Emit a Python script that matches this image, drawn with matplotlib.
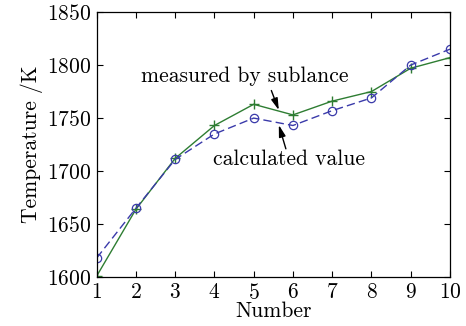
import matplotlib
matplotlib.use('Agg')

import numpy as np
import matplotlib.pyplot as plt

plt.rcParams['font.family'] = 'cmr10'
plt.rcParams['axes.formatter.use_mathtext'] = True

number = np.arange(1, 11)
measured = [1601, 1664, 1712, 1743, 1763, 1753, 1766, 1775, 1797, 1807]
calculated = [1618, 1665, 1711, 1735, 1750, 1743, 1757, 1769, 1800, 1815]

fs = 15.5

fig = plt.figure(figsize=(4.66, 3.26), dpi=100)
ax = fig.add_axes([0.2075, 0.150, 0.758, 0.813])

ax.plot(number, measured, '-', marker='+', color='#2e7d32', lw=1.0,
        markersize=7, markeredgewidth=1.0)
ax.plot(number, calculated, '--', marker='o', color='#3a3aaa', lw=1.0,
        markersize=6, markerfacecolor='none', markeredgewidth=0.9,
        dashes=(6, 3))

ax.set_xlim(1, 10)
ax.set_ylim(1600, 1850)
ax.set_xticks(number)
ax.set_yticks(np.arange(1600, 1851, 50))
ax.tick_params(direction='in', top=True, right=True, labelsize=fs,
               length=4, width=0.8, pad=4)
for s in ax.spines.values():
    s.set_linewidth(0.9)

ax.set_xlabel('Number', fontsize=fs, labelpad=-1)
ax.set_ylabel('Temperature /K', fontsize=fs, labelpad=3)

arrow = dict(arrowstyle='-|>,head_length=0.7,head_width=0.2', color='black',
             lw=1.0, shrinkA=0, shrinkB=0)
ax.text(4.78, 1789, 'measured by sublance', fontsize=fs, ha='center',
        va='center')
ax.annotate('', xy=(5.64, 1757.5), xytext=(5.45, 1776), arrowprops=arrow)
ax.annotate('', xy=(5.64, 1743.5), xytext=(5.82, 1721), arrowprops=arrow)
ax.text(5.90, 1711, 'calculated value', fontsize=fs, ha='center',
        va='center')

fig.savefig('out.png', dpi=100)
